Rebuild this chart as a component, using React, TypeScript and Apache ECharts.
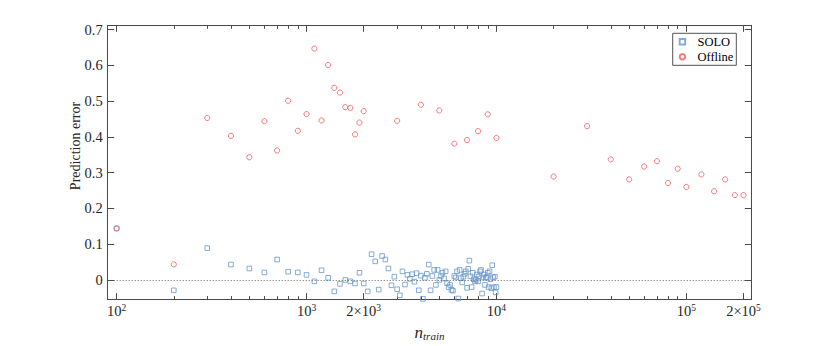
import React, { useEffect, useRef } from 'react';
import * as echarts from 'echarts';

// ---- data ----
const soloN = [
  100, 200, 300, 400, 500, 600, 700, 800, 900, 1000,
  1100, 1200, 1300, 1400, 1500, 1600, 1700, 1800, 1900, 2000,
  2100, 2200, 2300, 2400, 2500, 2600, 2700, 2800, 2900, 3000,
  3100, 3200, 3300, 3400, 3500, 3600, 3700, 3800, 3900, 4000,
  4100, 4200, 4300, 4400, 4500, 4600, 4700, 4800, 4900, 5000,
  5100, 5200, 5300, 5400, 5500, 5600, 5700, 5800, 5900, 6000,
  6100, 6200, 6300, 6400, 6500, 6600, 6700, 6800, 6900, 7000,
  7100, 7200, 7300, 7400, 7500, 7600, 7700, 7800, 7900, 8000,
  8100, 8200, 8300, 8400, 8500, 8600, 8700, 8800, 8900, 9000,
  9100, 9200, 9300, 9400, 9500, 9600, 9700, 9800, 9900, 10000,
];
const soloErr = [
  0.144, -0.029, 0.089, 0.043, 0.032, 0.021, 0.057, 0.023, 0.021, 0.014,
  -0.004, 0.027, 0.006, -0.032, -0.011, 0.0, -0.004, -0.010, 0.020, -0.010,
  -0.032, 0.072, 0.052, -0.027, 0.067, 0.057, 0.032, -0.015, 0.009, -0.026,
  -0.043, 0.024, -0.013, 0.014, 0.003, 0.016, -0.005, 0.019, -0.029, 0.012,
  -0.053, 0.006, 0.017, 0.043, -0.029, 0.011, 0.028, -0.014, 0.028, 0.0,
  0.011, 0.020, 0.004, 0.024, -0.009, -0.020, -0.014, -0.028, -0.030, 0.011,
  0.007, 0.024, -0.052, 0.028, 0.005, -0.007, 0.009, 0.017, 0.024, -0.022,
  0.031, 0.054, 0.010, -0.020, 0.020, 0.002, -0.004, 0.0, 0.015, -0.004,
  0.010, 0.024, 0.028, -0.038, 0.007, 0.015, -0.014, 0.007, 0.007, 0.020,
  -0.020, 0.024, 0.002, -0.023, 0.041, 0.007, -0.020, 0.009, -0.035, -0.020,
];

const offlineN = [
  100, 200, 300, 400, 500, 600, 700, 800, 900, 1000,
  1100, 1200, 1300, 1400, 1500, 1600, 1700, 1800, 1900, 2000,
  3000, 4000, 5000, 6000, 7000, 8000, 9000, 10000,
  20000, 30000, 40000, 50000, 60000, 70000, 80000, 90000, 100000,
  120000, 140000, 160000, 180000, 200000,
];
const offlineErr = [
  0.144, 0.0435, 0.453, 0.403, 0.343, 0.444, 0.362, 0.501, 0.417, 0.464,
  0.647, 0.446, 0.601, 0.537, 0.524, 0.483, 0.481, 0.407, 0.440, 0.472,
  0.445, 0.490, 0.474, 0.381, 0.391, 0.416, 0.463, 0.397,
  0.289, 0.430, 0.337, 0.281, 0.317, 0.332, 0.271, 0.311, 0.260,
  0.295, 0.248, 0.281, 0.237, 0.237,
];

const xTickValues = [100, 1000, 2000, 10000, 100000, 200000];
const xTickMantissa = ['', '', '2×', '', '', '2×'];
const xTickExponent = ['2', '3', '3', '4', '5', '5'];
const yTickValues = [0, 0.1, 0.2, 0.3, 0.4, 0.5, 0.6, 0.7];
const yTickLabels = ['0', '0.1', '0.2', '0.3', '0.4', '0.5', '0.6', '0.7'];

const seriesNames = ['SOLO', 'Offline'];

// ---- helpers ----
const L = (n: number) => Math.log10(n);
const minorTicks: number[] = [];
for (let d = 100; d <= 100000; d *= 10) {
  for (let k = 2; k <= 9; k++) {
    const v = k * d;
    if (v <= 200000 && !xTickValues.includes(v)) minorTicks.push(L(v));
  }
}
const majorTicks = xTickValues.map(L);

const SERIF = 'Liberation Serif';
const AXIS_COLOR = '#4a4a4a';
const TEXT_COLOR = '#262626';
const SOLO_COLOR = '#6797cb';
const OFFLINE_COLOR = '#f0595d';
const X_MIN = 1.953;
const X_MAX = 5.342;
const Y_MIN = -0.055;
const Y_MAX = 0.712;

function xLabel(val: number) {
  let best = 0;
  let bd = Infinity;
  majorTicks.forEach((m, i) => {
    const d = Math.abs(m - val);
    if (d < bd) { bd = d; best = i; }
  });
  return `{b|${xTickMantissa[best]}10}{s|${xTickExponent[best]}}`;
}
function yLabel(val: number) {
  let best = 0;
  let bd = Infinity;
  yTickValues.forEach((m, i) => {
    const d = Math.abs(m - val);
    if (d < bd) { bd = d; best = i; }
  });
  return yTickLabels[best];
}

const baseX = {
  type: 'value' as const,
  min: X_MIN,
  max: X_MAX,
  splitLine: { show: false },
};
const baseY = {
  type: 'value' as const,
  min: Y_MIN,
  max: Y_MAX,
  splitLine: { show: false },
};

export default function App() {
  const ref = useRef<HTMLDivElement>(null);
  useEffect(() => {
    if (!ref.current) return;
    const chart = echarts.init(ref.current, undefined, { renderer: 'svg' });
    const option: any = {
      animation: false,
      backgroundColor: '#ffffff',
      grid: { left: 107.7, right: 78.7, top: 25.3, bottom: 43.3, containLabel: false },
      xAxis: [
        {
          ...baseX,
          position: 'bottom',
          axisLine: { show: true, onZero: false, lineStyle: { color: AXIS_COLOR, width: 1 } },
          axisTick: { show: true, inside: true, length: 6.5, customValues: majorTicks, lineStyle: { color: AXIS_COLOR } },
          axisLabel: {
            show: true,
            customValues: majorTicks,
            margin: 3,
            formatter: xLabel,
            rich: {
              b: { fontFamily: SERIF, fontSize: 14.5, color: TEXT_COLOR, lineHeight: 17 },
              s: { fontFamily: SERIF, fontSize: 9.5, color: TEXT_COLOR, lineHeight: 10, verticalAlign: 'top' },
            },
          },
          name: '{n|n}{t|train}',
          nameLocation: 'middle',
          nameGap: 22,
          nameTextStyle: {
            rich: {
              n: { fontFamily: SERIF, fontStyle: 'italic', fontSize: 17, color: TEXT_COLOR, lineHeight: 18 },
              t: { fontFamily: SERIF, fontStyle: 'italic', fontSize: 11, color: TEXT_COLOR, lineHeight: 10, verticalAlign: 'bottom' },
            },
          },
        },
        {
          ...baseX,
          position: 'bottom',
          axisLine: { show: false, onZero: false },
          axisTick: { show: true, inside: true, length: 3.5, customValues: minorTicks, lineStyle: { color: AXIS_COLOR } },
          axisLabel: { show: false },
        },
        {
          ...baseX,
          position: 'top',
          axisLine: { show: true, onZero: false, lineStyle: { color: AXIS_COLOR, width: 1 } },
          axisTick: { show: true, inside: true, length: 6.5, customValues: majorTicks, lineStyle: { color: AXIS_COLOR } },
          axisLabel: { show: false },
        },
        {
          ...baseX,
          position: 'top',
          axisLine: { show: false, onZero: false },
          axisTick: { show: true, inside: true, length: 3.5, customValues: minorTicks, lineStyle: { color: AXIS_COLOR } },
          axisLabel: { show: false },
        },
      ],
      yAxis: [
        {
          ...baseY,
          position: 'left',
          axisLine: { show: true, onZero: false, lineStyle: { color: AXIS_COLOR, width: 1 } },
          axisTick: { show: true, inside: true, length: 6.5, customValues: yTickValues, lineStyle: { color: AXIS_COLOR } },
          axisLabel: {
            show: true,
            customValues: yTickValues,
            formatter: yLabel,
            margin: 5,
            fontFamily: SERIF,
            fontSize: 14.5,
            color: TEXT_COLOR,
          },
        },
        {
          ...baseY,
          position: 'right',
          axisLine: { show: true, onZero: false, lineStyle: { color: AXIS_COLOR, width: 1 } },
          axisTick: { show: true, inside: true, length: 6.5, customValues: yTickValues, lineStyle: { color: AXIS_COLOR } },
          axisLabel: { show: false },
        },
      ],
      legend: {
        orient: 'vertical',
        left: 672.7,
        top: 33.3,
        backgroundColor: '#ffffff',
        borderColor: '#262626',
        borderWidth: 0.8,
        padding: [2, 3, 2, 6],
        itemGap: 2,
        itemWidth: 20,
        itemHeight: 5.5,
        textStyle: { fontFamily: SERIF, fontSize: 12.5, color: '#000000' },
        data: [
          { name: seriesNames[0], icon: 'path://M0 0H10V10H0Z' },
          { name: seriesNames[1], icon: 'circle' },
        ],
      },
      graphic: [
        {
          type: 'text',
          x: 75,
          y: 146,
          rotation: Math.PI / 2,
          style: {
            text: 'Prediction error',
            fontFamily: SERIF,
            fontSize: 14,
            fill: TEXT_COLOR,
            align: 'center',
            verticalAlign: 'middle',
          },
        },
      ],
      series: [
        {
          name: seriesNames[0],
          type: 'scatter',
          xAxisIndex: 0,
          yAxisIndex: 0,
          symbol: 'rect',
          symbolSize: 4.6,
          itemStyle: { color: 'rgba(0,0,0,0)', borderColor: SOLO_COLOR, borderWidth: 1 },
          data: soloN.map((n, i) => [L(n), soloErr[i]]),
          markLine: {
            silent: true,
            symbol: ['none', 'none'],
            label: { show: false },
            lineStyle: { color: '#555555', type: [1, 2], width: 0.9 },
            data: [{ yAxis: 0 }],
          },
          z: 2,
        },
        {
          name: seriesNames[1],
          type: 'scatter',
          xAxisIndex: 0,
          yAxisIndex: 0,
          symbol: 'circle',
          symbolSize: 5.2,
          itemStyle: { color: 'rgba(0,0,0,0)', borderColor: OFFLINE_COLOR, borderWidth: 1 },
          data: offlineN.map((n, i) => [L(n), offlineErr[i]]),
          z: 3,
        },
      ],
    };
    chart.setOption(option);
    return () => chart.dispose();
  }, []);
  return (
    <div
      ref={ref}
      style={{ position: 'fixed', left: 0, top: 0, width: 830, height: 346, background: '#fff' }}
    />
  );
}
